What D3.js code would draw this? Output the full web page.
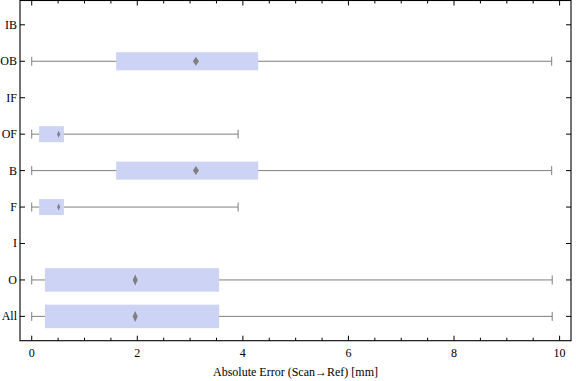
<!DOCTYPE html>
<html><head><meta charset="utf-8">
<script src="https://cdn.jsdelivr.net/npm/d3@7"></script>
<style>body{margin:0;background:#fff}svg{display:block}</style>
</head><body>
<script>
// Categories, bottom to top
const categories = ["All","O","I","F","B","OF","IF","OB","IB"];
// Box-whisker statistics (mm); null = no data
const minVals    = [0.0, 0.0, null, 0.0,  0.0,  0.0,  null, 0.0,  null];
const q1Vals     = [0.25,0.25,null, 0.14, 1.60, 0.14, null, 1.60, null];
const medianVals = [1.96,1.96,null, 0.51, 3.11, 0.51, null, 3.11, null];
const q3Vals     = [3.55,3.55,null, 0.61, 4.29, 0.61, null, 4.29, null];
const maxVals    = [9.86,9.86,null, 3.91, 9.85, 3.91, null, 9.85, null];
const xMajorTicks = [0,2,4,6,8,10];
const xTitle = "Absolute Error (Scan\u2192Ref) [mm]";

const W=576,H=381, L=20, R=571, T=0.5, B=340.7;
const svg=d3.select("body").append("svg").attr("width",W).attr("height",H);
const x=d3.scaleLinear().domain([-0.222,10.216]).range([L,R]);
const y=d3.scalePoint().domain(categories).range([B,T]).padding(0.667);

const boxH={All:23.5,O:23.5,B:18,OB:18,F:16,OF:16};
const diaW={All:5,O:5,B:6,OB:6,F:3,OF:3};
const diaH={All:11,O:11,B:9,OB:9,F:7,OF:7};

const data=categories.map((c,i)=>({c,min:minVals[i],q1:q1Vals[i],med:medianVals[i],q3:q3Vals[i],max:maxVals[i]})).filter(d=>d.min!==null);
const grey="#7f7f7f";
const g=svg.append("g");
data.forEach(d=>{
  const cy=y(d.c);
  g.append("line").attr("x1",x(d.min)).attr("x2",x(d.max)).attr("y1",cy).attr("y2",cy).attr("stroke",grey).attr("stroke-width",1);
  [d.min,d.max].forEach(v=>g.append("line").attr("x1",x(v)).attr("x2",x(v)).attr("y1",cy-4.5).attr("y2",cy+4.5).attr("stroke",grey).attr("stroke-width",1));
  const h=boxH[d.c];
  g.append("rect").attr("x",x(d.q1)).attr("width",x(d.q3)-x(d.q1)).attr("y",cy-h/2).attr("height",h).attr("fill","#cdd3f5");
  const mx=x(d.med),w=diaW[d.c]/2,hh=diaH[d.c]/2;
  g.append("path").attr("d",`M${mx},${cy-hh}L${mx+w},${cy}L${mx},${cy+hh}L${mx-w},${cy}Z`).attr("fill",grey);
});

// frame
svg.append("rect").attr("x",L).attr("y",T).attr("width",R-L).attr("height",B-T).attr("fill","none").attr("stroke","#000").attr("stroke-width",1.1);

const font="'Liberation Serif','Times New Roman',serif";
// x ticks
const minor=d3.range(0,10.01,0.5).filter(v=>!xMajorTicks.includes(v));
const tk=svg.append("g").attr("stroke","#000").attr("stroke-width",1);
xMajorTicks.forEach(v=>{
  tk.append("line").attr("x1",x(v)).attr("x2",x(v)).attr("y1",B).attr("y2",B-5);
  tk.append("line").attr("x1",x(v)).attr("x2",x(v)).attr("y1",T).attr("y2",T+5);
});
minor.forEach(v=>{
  tk.append("line").attr("x1",x(v)).attr("x2",x(v)).attr("y1",B).attr("y2",B-3);
  tk.append("line").attr("x1",x(v)).attr("x2",x(v)).attr("y1",T).attr("y2",T+3);
});
categories.forEach(c=>{
  tk.append("line").attr("x1",L).attr("x2",L+5).attr("y1",y(c)).attr("y2",y(c));
  tk.append("line").attr("x1",R).attr("x2",R-5).attr("y1",y(c)).attr("y2",y(c));
});
svg.append("g").selectAll("text").data(xMajorTicks).join("text")
  .attr("x",d=>x(d)).attr("y",357).attr("text-anchor","middle")
  .attr("font-family",font).attr("font-size",12).attr("fill","#000").text(d=>d);
svg.append("g").selectAll("text").data(categories).join("text")
  .attr("x",17).attr("y",d=>y(d)+4).attr("text-anchor","end")
  .attr("font-family",font).attr("font-size",12).attr("fill","#000").text(d=>d);
svg.append("text").attr("x",(L+R)/2).attr("y",376).attr("text-anchor","middle")
  .attr("font-family",font).attr("font-size",12).attr("fill","#000").text(xTitle);
</script>
</body></html>
